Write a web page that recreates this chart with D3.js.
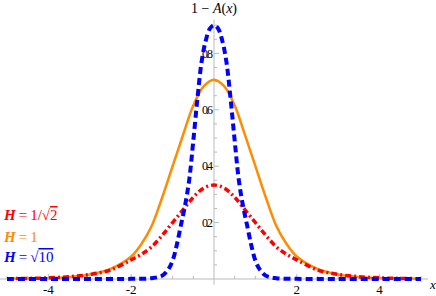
<meta charset="utf-8">
<script src="https://d3js.org/d3.v7.min.js"></script>
<style>
  body { margin: 0; background: #fff; }
  text { font-family: "Liberation Serif", "DejaVu Serif", serif; }
</style>
<div id="chart"></div>
<script>

// curve samples
var xO = [-5,-4.5,-4,-3.5,-3,-2.5,-2,-1.75,-1.5,-1.25,-1,-0.75,-0.5,-0.25,0,0.25,0.5,0.75,1,1.25,1.5,1.75,2,2.5,3,3.5,4,4.5,5];
var yO = [0.001,0.002,0.003,0.007,0.016,0.036,0.08,0.125,0.19,0.29,0.40,0.51,0.615,0.683,0.707,0.683,0.615,0.51,0.40,0.29,0.19,0.125,0.08,0.036,0.016,0.007,0.003,0.002,0.001];
var yR = [0.001,0.002,0.004,0.008,0.016,0.032,0.068,0.088,0.115,0.155,0.20,0.245,0.29,0.322,0.333,0.322,0.29,0.245,0.20,0.155,0.115,0.088,0.068,0.032,0.016,0.008,0.004,0.002,0.001];
var xB = [-5,-4,-3,-2,-1.5,-1.25,-1.1,-1,-0.9,-0.8,-0.7,-0.6,-0.5,-0.4,-0.3,-0.2,-0.1,0,0.1,0.2,0.3,0.4,0.5,0.6,0.7,0.8,0.9,1,1.1,1.25,1.5,2,3,4,5];
var yB = [0,0,0,0.0005,0.003,0.012,0.035,0.065,0.12,0.19,0.26,0.35,0.49,0.64,0.77,0.845,0.888,0.90,0.888,0.845,0.77,0.64,0.49,0.35,0.26,0.19,0.12,0.065,0.035,0.012,0.003,0.0005,0,0,0];

var xMajor = [-4,-2,2,4];
var xMinor = d3.range(-5, 5.01, 0.5);
var yMajor = [0.2,0.4,0.6,0.8];
var yMinor = d3.range(0.05, 0.91, 0.05);

var width = 436, height = 296;

var svg = d3.select("#chart")
  .append("svg")
    .attr("width", width)
    .attr("height", height);

var x = d3.scaleLinear().domain([-5, 5]).range([7, 421]);
var y = d3.scaleLinear().domain([0, 1]).range([279, -3]);

// axes lines
svg.append("line")
  .attr("x1", 0).attr("x2", 428)
  .attr("y1", y(0)).attr("y2", y(0))
  .style("stroke", "#bbb");
svg.append("line")
  .attr("x1", x(0)).attr("x2", x(0))
  .attr("y1", y(-0.02)).attr("y2", y(0.92))
  .style("stroke", "#bbb");

// x ticks (pointing up)
svg.append("g").selectAll("line")
  .data(xMinor.filter(function(d){ return Math.abs(d) > 0.01; }))
  .enter().append("line")
    .attr("x1", function(d){ return x(d); })
    .attr("x2", function(d){ return x(d); })
    .attr("y1", y(0))
    .attr("y2", function(d){ return y(0) - (xMajor.indexOf(d) >= 0 ? 5 : 3); })
    .style("stroke", "#bbb");

// y ticks (pointing right)
svg.append("g").selectAll("line")
  .data(yMinor)
  .enter().append("line")
    .attr("x1", x(0))
    .attr("x2", function(d){
      var major = yMajor.some(function(m){ return Math.abs(m - d) < 1e-6; });
      return x(0) + (major ? 5 : 3);
    })
    .attr("y1", function(d){ return y(d); })
    .attr("y2", function(d){ return y(d); })
    .style("stroke", "#bbb");

// tick labels
svg.append("g").selectAll("text")
  .data(xMajor)
  .enter().append("text")
    .attr("x", function(d){ return x(d); })
    .attr("y", 294)
    .attr("text-anchor", "middle")
    .style("font-size", "13px")
    .text(function(d){ return d < 0 ? "-" + (-d) : d; });

svg.append("g").selectAll("text")
  .data(yMajor)
  .enter().append("text")
    .attr("x", x(0) - 3)
    .attr("y", function(d){ return y(d); })
    .attr("dy", "0.35em")
    .attr("text-anchor", "end")
    .style("font-size", "12px")
    .style("letter-spacing", "-2px")
    .text(function(d){ return d3.format(".1f")(d); });

// axis labels
var title = svg.append("text")
  .attr("x", x(0))
  .attr("y", 13)
  .attr("text-anchor", "middle")
  .style("font-size", "14px");
title.append("tspan").text("1 \u2212 ");
title.append("tspan").style("font-style", "italic").text("A");
title.append("tspan").text("(");
title.append("tspan").style("font-style", "italic").text("x");
title.append("tspan").text(")");

svg.append("text")
  .attr("x", 430)
  .attr("y", 289)
  .style("font-size", "13px")
  .style("font-style", "italic")
  .text("x");

// curves
var line = d3.line()
  .x(function(d){ return x(d[0]); })
  .y(function(d){ return y(d[1]); })
  .curve(d3.curveCatmullRom);

svg.append("path")
  .datum(d3.zip(xO, yO))
  .attr("d", line)
  .style("fill", "none")
  .style("stroke", "rgb(255,140,0)")
  .style("stroke-width", 2.5);

svg.append("path")
  .datum(d3.zip(xO, yR))
  .attr("d", line)
  .style("fill", "none")
  .style("stroke", "#ff0000")
  .style("stroke-width", 3.5)
  .style("stroke-dasharray", "6,3,2,3");

svg.append("path")
  .datum(d3.zip(xB, yB))
  .attr("d", line)
  .style("fill", "none")
  .style("stroke", "#0000ff")
  .style("stroke-width", 4)
  .style("stroke-dasharray", "7,4");

// legend
var legend = [
  {color: "#ff0000", parts: [["H", "i"], ["\u2009=\u20091/\u221A", ""], ["2", "o"]], y: 220},
  {color: "rgb(255,140,0)", parts: [["H", "i"], ["\u2009=\u20091", ""]], y: 242},
  {color: "#0000ff", parts: [["H", "i"], ["\u2009=\u2009\u221A", ""], ["10", "o"]], y: 262}
];
legend.forEach(function(l){
  var t = svg.append("text")
    .attr("x", 4)
    .attr("y", l.y)
    .style("font-size", "15px")
    .style("fill", l.color);
  l.parts.forEach(function(p){
    var s = t.append("tspan").text(p[0]);
    if (p[1] === "i") s.style("font-style", "italic").style("font-weight", "bold");
    if (p[1] === "o") s.style("text-decoration", "overline");
  });
});

</script>
